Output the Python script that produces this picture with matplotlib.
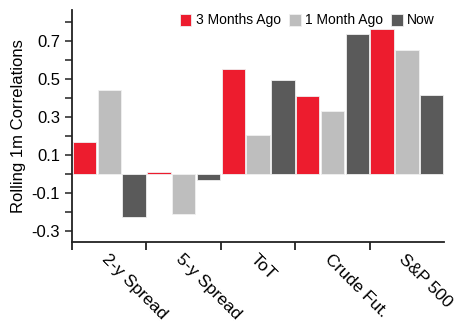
import numpy as np
import matplotlib.pyplot as plt

plt.rcParams['font.family'] = ['Liberation Sans', 'DejaVu Sans']

categories = ['2-y Spread', '5-y Spread', 'ToT', 'Crude Fut.', 'S&P 500']
three_months = [0.17, 0.01, 0.555, 0.41, 0.765]
one_month = [0.44, -0.21, 0.205, 0.33, 0.655]
now = [-0.226, -0.03, 0.493, 0.735, 0.418]

series = [('3 Months Ago', three_months, '#ED1C2E'),
          ('1 Month Ago', one_month, '#BEBEBE'),
          ('Now', now, '#5A5A5A')]

fig = plt.figure(figsize=(4.56, 3.26), dpi=100)
ax = fig.add_axes([0.158, 0.258, 0.816, 0.711])

n = len(categories)
for i, (name, vals, col) in enumerate(series):
    x = np.arange(n) * 3 + i
    ax.bar(x, vals, width=0.94, color=col, edgecolor='#f0f0f0', linewidth=0.6, label=name)

ax.set_xlim(-0.5, 3 * n - 0.5)
ax.set_ylim(-0.358, 0.863)

ax.set_xticks(np.arange(n) * 3 - 0.5)
ax.set_xticklabels([])
ax.set_xticks(np.arange(n) * 3 + 1, minor=True)
ax.set_xticklabels(categories, minor=True, rotation=-45, ha='left', va='top',
                   rotation_mode='anchor', fontsize=12.5)
ax.tick_params(axis='x', which='minor', length=0, pad=7)
ax.tick_params(axis='x', which='major', length=6, width=1.3, color='#222222')

ax.set_yticks(np.arange(-0.3, 0.85, 0.2))
ax.set_yticklabels(['-0.3', '-0.1', '0.1', '0.3', '0.5', '0.7'])
ax.set_yticks(np.arange(-0.2, 0.85, 0.2), minor=True)
ax.tick_params(axis='y', which='both', length=5, width=1.1, color='#222222', labelsize=12)

ax.set_ylabel('Rolling 1m Correlations', fontsize=12, labelpad=4)

for s in ['top', 'right']:
    ax.spines[s].set_visible(False)
for s in ['left', 'bottom']:
    ax.spines[s].set_color('#222222')
    ax.spines[s].set_linewidth(1.3)

ax.legend(loc='upper right', bbox_to_anchor=(0.99, 1.01), ncol=3, frameon=False,
          fontsize=10, handlelength=0.85, handleheight=0.95, handletextpad=0.3,
          columnspacing=0.6, borderaxespad=0.0)

fig.savefig('out.png', dpi=100)
